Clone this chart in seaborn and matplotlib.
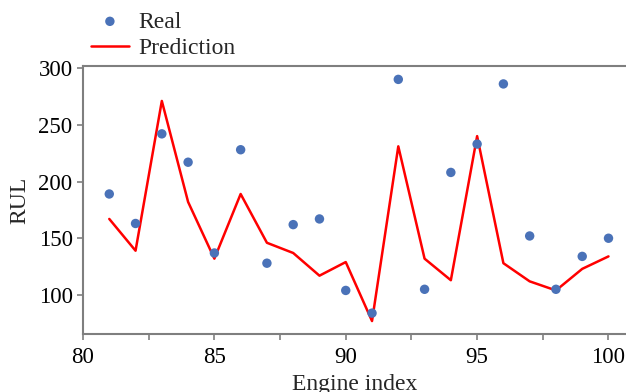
import matplotlib
matplotlib.use("Agg")
import matplotlib.pyplot as plt
import seaborn as sns
import pandas as pd
from matplotlib.ticker import MultipleLocator

# Engine indices and remaining-useful-life values
engine_index = list(range(81, 101))
rul_real = [189, 163, 242, 217, 137, 228, 128, 162, 167, 104,
            84, 290, 105, 208, 233, 286, 152, 105, 134, 150]
rul_pred = [167, 139, 271, 182, 132, 189, 146, 137, 117, 129,
            77, 231, 132, 113, 240, 128, 112, 104, 123, 134]

df = pd.DataFrame({"engine": engine_index, "real": rul_real, "pred": rul_pred})

sns.set_style("ticks")
plt.rcParams["font.family"] = ["Liberation Serif", "DejaVu Serif"]

fig = plt.figure(figsize=(6.26, 3.92), dpi=100)
ax = fig.add_axes([83 / 626, 1 - 334 / 392, 1 - 83 / 626 + 0.001, (334 - 66) / 392])

sns.lineplot(data=df, x="engine", y="pred", ax=ax, color="#ff0000",
             linewidth=1.8, label="Prediction", zorder=2)
sns.scatterplot(data=df, x="engine", y="real", ax=ax, color="#4a72b8",
                s=46, edgecolor="none", label="Real", zorder=3)

ax.set_xlim(80, 100.69)
ax.set_ylim(65.6, 301.8)
ax.xaxis.set_major_locator(MultipleLocator(5))
ax.xaxis.set_minor_locator(MultipleLocator(2.5))
ax.yaxis.set_major_locator(MultipleLocator(50))

spine_col = "#7f7f7f"
for side in ["left", "bottom", "top"]:
    ax.spines[side].set_color(spine_col)
    ax.spines[side].set_linewidth(1.5)
ax.spines["right"].set_visible(False)
ax.tick_params(axis="both", which="both", colors=spine_col, width=1.2,
               length=4.5, labelsize=16.5, labelcolor="black", pad=3)
ax.tick_params(axis="x", which="major", pad=5)

ax.set_xlabel("Engine index", fontsize=17, labelpad=4.5)
ax.set_ylabel("RUL", fontsize=17, labelpad=6)

handles, labels = ax.get_legend_handles_labels()
order = [labels.index("Real"), labels.index("Prediction")]
ax.legend([handles[i] for i in order], [labels[i] for i in order],
          loc="upper left", bbox_to_anchor=(91 / 626, 1 - 11 / 392),
          bbox_transform=fig.transFigure, frameon=False, fontsize=17,
          handlelength=1.6, handletextpad=0.4, labelspacing=0.2,
          borderaxespad=0.0, borderpad=0.0)

fig.savefig("out.png", dpi=100)
